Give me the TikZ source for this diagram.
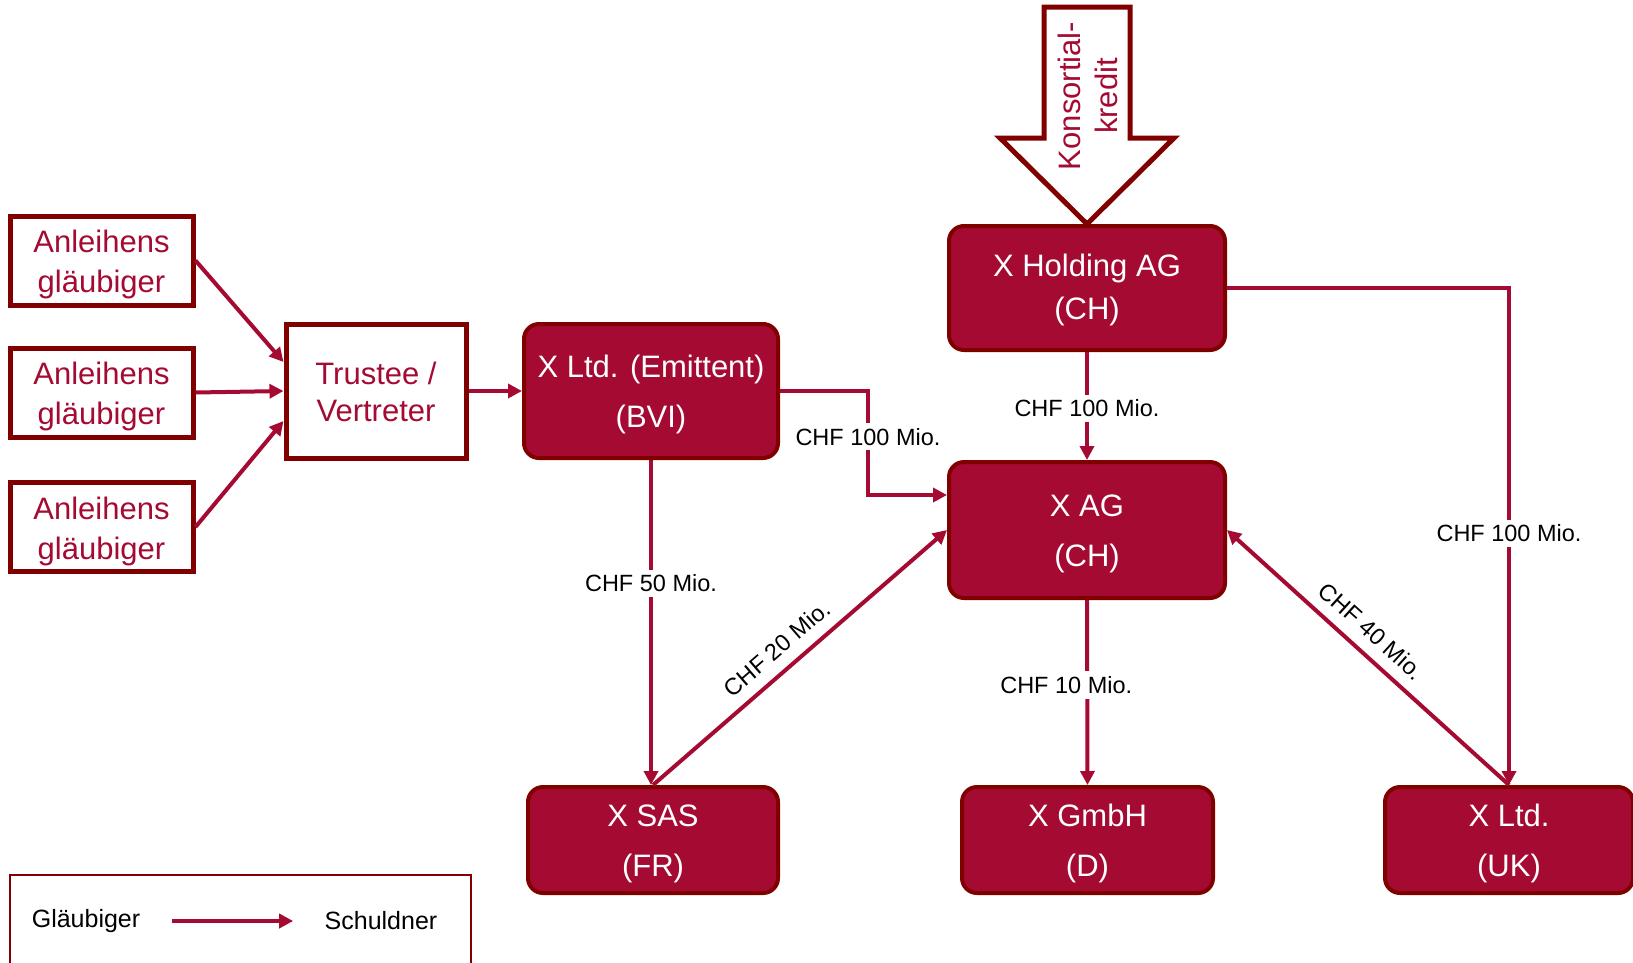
\documentclass[tikz,border=0pt]{standalone}
\usepackage{fontspec}
\setmainfont{Liberation Sans}
\usetikzlibrary{arrows.meta,calc}
\definecolor{bordeaux}{HTML}{A50A33}
\definecolor{dunkelrot}{HTML}{800000}
\newcommand{\oben}[1]{\rule{0pt}{#1}}

\begin{document}
\begin{tikzpicture}[x=1pt,y=-1pt,
    firma/.style={draw=dunkelrot,line width=4pt,fill=bordeaux,rounded corners=15pt,
      text=white,align=center,font=\fontsize{31}{50}\selectfont},
    kasten/.style={draw=dunkelrot,line width=5pt,fill=white,text=bordeaux,
      align=center,font=\fontsize{31}{40}\selectfont},
    pfeil/.style={draw=bordeaux,line width=4pt,-{Triangle[length=14pt,width=14pt]}},
    betrag/.style={font=\fontsize{23.5}{28}\selectfont,text=black},
    weiss/.style={betrag,fill=white,inner sep=5pt}]
      \useasboundingbox (0,0) rectangle (1633,962);

      % Firmen
      \node[firma,minimum width=276pt,minimum height=124pt,font=\fontsize{31}{43}\selectfont]
        (holding) at (1087,288) {\oben{27pt}X Holding AG\\(CH)};
      \node[firma,minimum width=276pt,minimum height=136pt] (xag) at (1087,530) {\oben{28.5pt}X AG\\(CH)};
      \node[firma,minimum width=254pt,minimum height=134pt] (emittent) at (651,391) {\oben{28.5pt}X Ltd. (Emittent)\\(BVI)};
      \node[firma,minimum width=250pt,minimum height=106pt] (sas) at (653,840) {\oben{28.5pt}X SAS\\(FR)};
      \node[firma,minimum width=251pt,minimum height=106pt] (gmbh) at (1087.5,840) {\oben{28.5pt}X GmbH\\(D)};
      \node[firma,minimum width=248pt,minimum height=106pt] (uk) at (1509,840) {\oben{28.5pt}X Ltd.\\(UK)};

      % Anleihensglaeubiger
      \foreach \i/\y in {1/260.5,2/392.5,3/527}
        \node[kasten,minimum width=183pt,minimum height=89pt] (anl\i) at (101.5,\y) {\oben{31pt}Anleihens\\gläubiger};
      \node[kasten,minimum width=180pt,minimum height=134pt,font=\fontsize{31}{37.5}\selectfont]
        (trustee) at (376,391) {\oben{24.5pt}Trustee /\\Vertreter};

      % Konsortialkredit
      \draw[dunkelrot,line width=5pt,fill=white,line join=miter]
        (holding.north) -- (1000,138) -- (1044,138) -- (1044,7) -- (1130,7)
        -- (1130,138) -- (1174,138) -- cycle;
      \node[rotate=90,text=bordeaux,align=center,font=\fontsize{31}{37.5}\selectfont]
        (kredit) at (1088,96) {Konsortial-\\kredit};

      % Verbindungen
      \draw[pfeil] (anl1.east) -- ([yshift=29pt]trustee.west);
      \draw[pfeil] (anl2.east) -- (trustee.west);
      \draw[pfeil] (anl3.east) -- ([yshift=-30pt]trustee.west);
      \draw[pfeil] (trustee.east) -- (emittent.west);

      \draw[pfeil] (emittent.east) -- ++(88,0)
        -- node[weiss,pos=0.44] {CHF 100 Mio.} ++(0,104) -- ([yshift=35pt]xag.west);
      \draw[pfeil] (holding.south) -- node[weiss,pos=0.52] {CHF 100 Mio.} (xag.north);
      \draw[pfeil] (holding.east) -| node[weiss,pos=0.747] {CHF 100 Mio.} (uk.north);
      \draw[pfeil] (emittent.south) -- node[weiss,pos=0.38] {CHF 50 Mio.} (emittent.south |- sas.north);
      \draw[pfeil] (sas.north) -- node[betrag,sloped,above=8pt,pos=0.47] {CHF 20 Mio.} (xag.west);
      \draw[pfeil] (xag.south) -- node[weiss,xshift=-21pt,pos=0.46] {CHF 10 Mio.} (gmbh.north);
      \draw[pfeil,{Triangle[length=14pt,width=14pt]}-] (xag.east)
        -- node[betrag,sloped,above=8pt,pos=0.46] {CHF 40 Mio.} (uk.north);

      % Legende
      \node[draw=dunkelrot,line width=1.5pt,minimum width=461pt,minimum height=110pt] (legende) at (240.5,930) {};
      \node[betrag,font=\fontsize{25}{30}\selectfont] (glaeubiger) at (86,921) {Gläubiger};
      \node[betrag,font=\fontsize{25}{30}\selectfont] (schuldner) at (381,921) {Schuldner};
      \draw[pfeil] ([xshift=28pt]glaeubiger.east) -- ([xshift=-28pt]schuldner.west);
    \end{tikzpicture}
\end{document}
